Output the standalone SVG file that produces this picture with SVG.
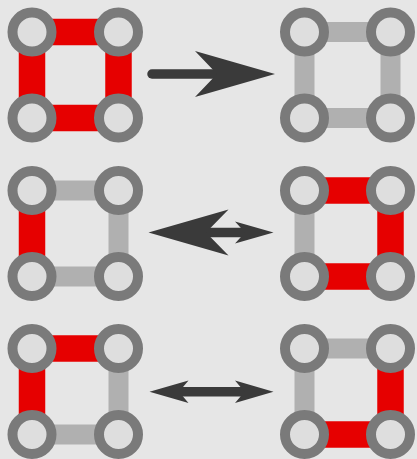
<svg xmlns="http://www.w3.org/2000/svg" width="417" height="459" viewBox="0 0 417 459">
<style>
.bg{fill:#e6e6e6}
.n{fill:#dedede;stroke:#7a7a7a;stroke-width:10}
.r{stroke:#e60000;stroke-width:26.5;fill:none}
.g{stroke:#b0b0b0;stroke-width:20;fill:none}
.a{fill:#3a3a3a}
.s{stroke:#3a3a3a;stroke-width:9.5;fill:none}
</style>
<rect class="bg" x="0" y="0" width="417" height="459"/>
<g id="connectors">
<!-- row 1 left: all red -->
<line class="r" x1="32" y1="32" x2="118.5" y2="32"/>
<line class="r" x1="32" y1="118" x2="118.5" y2="118"/>
<line class="r" x1="32" y1="32" x2="32" y2="118"/>
<line class="r" x1="118.5" y1="32" x2="118.5" y2="118"/>
<!-- row 1 right: all gray -->
<line class="g" x1="304.5" y1="32" x2="390.5" y2="32"/>
<line class="g" x1="304.5" y1="118" x2="390.5" y2="118"/>
<line class="g" x1="304.5" y1="32" x2="304.5" y2="118"/>
<line class="g" x1="390.5" y1="32" x2="390.5" y2="118"/>
<!-- row 2 left -->
<line class="g" x1="32" y1="190.5" x2="118.5" y2="190.5"/>
<line class="g" x1="32" y1="276.5" x2="118.5" y2="276.5"/>
<line class="r" x1="32" y1="190.5" x2="32" y2="276.5"/>
<line class="g" x1="118.5" y1="190.5" x2="118.5" y2="276.5"/>
<!-- row 2 right -->
<line class="r" x1="304.5" y1="190.5" x2="390.5" y2="190.5"/>
<line class="r" x1="304.5" y1="276.5" x2="390.5" y2="276.5"/>
<line class="g" x1="304.5" y1="190.5" x2="304.5" y2="276.5"/>
<line class="r" x1="390.5" y1="190.5" x2="390.5" y2="276.5"/>
<!-- row 3 left -->
<line class="r" x1="32" y1="348.5" x2="118.5" y2="348.5"/>
<line class="g" x1="32" y1="434.5" x2="118.5" y2="434.5"/>
<line class="r" x1="32" y1="348.5" x2="32" y2="434.5"/>
<line class="g" x1="118.5" y1="348.5" x2="118.5" y2="434.5"/>
<!-- row 3 right -->
<line class="g" x1="304.5" y1="348.5" x2="390.5" y2="348.5"/>
<line class="r" x1="304.5" y1="434.5" x2="390.5" y2="434.5"/>
<line class="g" x1="304.5" y1="348.5" x2="304.5" y2="434.5"/>
<line class="r" x1="390.5" y1="348.5" x2="390.5" y2="434.5"/>
</g>
<g id="arrows">
<line class="s" x1="152" y1="74" x2="220" y2="74" stroke-linecap="round"/>
<polygon class="a" points="275,74 195,51 217,74 195,97"/>
<line class="s" x1="200" y1="232.5" x2="250" y2="232.5"/>
<polygon class="a" points="148.5,232.5 228.5,209.5 206,232.5 228.5,255.5"/>
<polygon class="a" points="273.5,232.5 235,221.5 245,232.5 235,243.5"/>
<line class="s" x1="175" y1="391.7" x2="250" y2="391.7" stroke-width="10"/>
<polygon class="a" points="149.5,391.7 188.5,380.5 179,391.7 188.5,402.9"/>
<polygon class="a" points="273.5,391.7 235,380.5 244.5,391.7 235,402.9"/>
</g>
<g id="n1"><circle class="n" cx="32" cy="32" r="19.5"/></g>
<g id="n2"><circle class="n" cx="118.5" cy="32" r="19.5"/></g>
<g id="n3"><circle class="n" cx="32" cy="118" r="19.5"/></g>
<g id="n4"><circle class="n" cx="118.5" cy="118" r="19.5"/></g>
<g id="n5"><circle class="n" cx="304.5" cy="32" r="19.5"/></g>
<g id="n6"><circle class="n" cx="390.5" cy="32" r="19.5"/></g>
<g id="n7"><circle class="n" cx="304.5" cy="118" r="19.5"/></g>
<g id="n8"><circle class="n" cx="390.5" cy="118" r="19.5"/></g>
<g id="n9"><circle class="n" cx="32" cy="190.5" r="19.5"/></g>
<g id="n10"><circle class="n" cx="118.5" cy="190.5" r="19.5"/></g>
<g id="n11"><circle class="n" cx="32" cy="276.5" r="19.5"/></g>
<g id="n12"><circle class="n" cx="118.5" cy="276.5" r="19.5"/></g>
<g id="n13"><circle class="n" cx="304.5" cy="190.5" r="19.5"/></g>
<g id="n14"><circle class="n" cx="390.5" cy="190.5" r="19.5"/></g>
<g id="n15"><circle class="n" cx="304.5" cy="276.5" r="19.5"/></g>
<g id="n16"><circle class="n" cx="390.5" cy="276.5" r="19.5"/></g>
<g id="n17"><circle class="n" cx="32" cy="348.5" r="19.5"/></g>
<g id="n18"><circle class="n" cx="118.5" cy="348.5" r="19.5"/></g>
<g id="n19"><circle class="n" cx="32" cy="434.5" r="19.5"/></g>
<g id="n20"><circle class="n" cx="118.5" cy="434.5" r="19.5"/></g>
<g id="n21"><circle class="n" cx="304.5" cy="348.5" r="19.5"/></g>
<g id="n22"><circle class="n" cx="390.5" cy="348.5" r="19.5"/></g>
<g id="n23"><circle class="n" cx="304.5" cy="434.5" r="19.5"/></g>
<g id="n24"><circle class="n" cx="390.5" cy="434.5" r="19.5"/></g>
</svg>
